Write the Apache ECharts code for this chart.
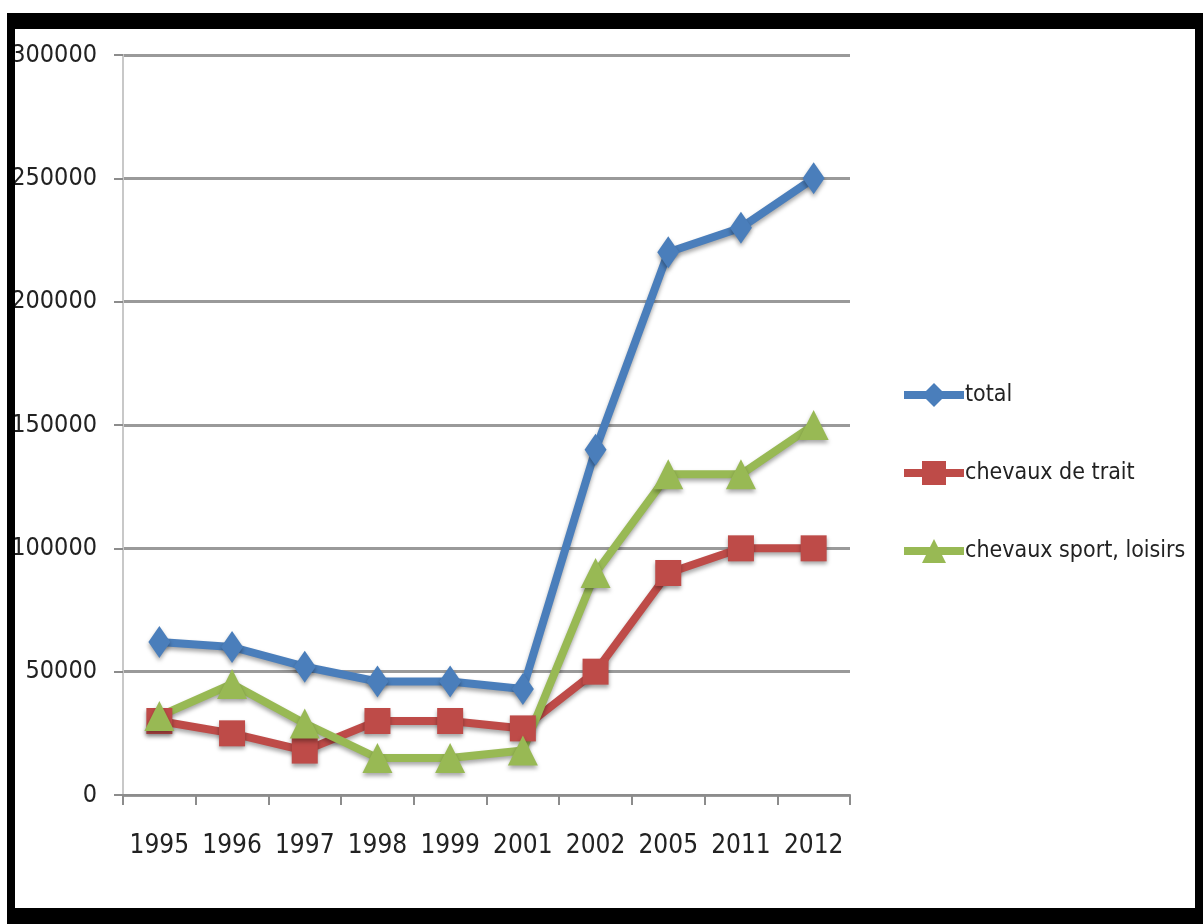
<!DOCTYPE html>
<html>
<head>
<meta charset="utf-8">
<script src="https://cdn.jsdelivr.net/npm/echarts@6/dist/echarts.min.js"></script>
<style>
  html, body { margin: 0; padding: 0; background: #fff; width: 1203px; height: 924px; overflow: hidden; }
  #chart { position: absolute; left: 0; top: 0; width: 1203px; height: 924px; }
  #frame {
    position: absolute; left: 7px; top: 13px; right: 0; bottom: 0;
    border-style: solid; border-color: #000;
    border-width: 16px 8px 16px 8px;
    pointer-events: none;
  }
</style>
</head>
<body>
<div id="chart"></div>
<div id="frame"></div>
<script>
// Horse numbers by year
const years = ['1995', '1996', '1997', '1998', '1999', '2001', '2002', '2005', '2011', '2012'];
const total = [62000, 60000, 52000, 46000, 46000, 43000, 140000, 220000, 230000, 250000];
const chevauxTrait = [30000, 25000, 18000, 30000, 30000, 27000, 50000, 90000, 100000, 100000];
const chevauxSport = [32000, 45000, 29000, 15000, 15000, 18000, 90000, 130000, 130000, 150000];
const seriesNames = ['total', 'chevaux de trait', 'chevaux sport, loisirs'];

const FONT = '"DejaVu Sans Condensed", "Liberation Sans Narrow", "Liberation Sans", sans-serif';

function lineSeries(name, data, color, symbol, size) {
  return {
    name: name,
    type: 'line',
    data: data,
    symbol: symbol,
    symbolSize: size,
    lineStyle: { color: color, width: 8, shadowColor: 'rgba(0,0,0,0.35)', shadowBlur: 4, shadowOffsetY: 3 },
    itemStyle: { color: color, shadowColor: 'rgba(0,0,0,0.35)', shadowBlur: 4, shadowOffsetY: 3 },
    emphasis: { disabled: true },
    animation: false
  };
}

const chart = echarts.init(document.getElementById('chart'), null, { renderer: 'canvas' });
chart.setOption({
  backgroundColor: '#fff',
  animation: false,
  grid: { left: 123, right: 353, top: 55, bottom: 129, containLabel: false },
  legend: {
    orient: 'vertical',
    left: 895,
    top: 378,
    itemWidth: 60,
    itemHeight: 30,
    itemGap: 48,
    lineStyle: { width: 8 },
    itemStyle: { shadowBlur: 0 },
    textStyle: { fontFamily: FONT, fontSize: 23, color: '#222', padding: [0, 0, 0, -4] },
    data: seriesNames
  },
  xAxis: {
    type: 'category',
    data: years,
    boundaryGap: true,
    axisLine: { lineStyle: { color: '#8c8c8c', width: 2 } },
    axisTick: { show: true, interval: 0, length: 10, lineStyle: { color: '#8c8c8c', width: 2 } },
    axisLabel: { interval: 0, margin: 38, fontFamily: FONT, fontSize: 26, color: '#222' },
    splitLine: { show: false }
  },
  yAxis: {
    type: 'value',
    min: 0,
    max: 300000,
    interval: 50000,
    axisLine: { show: true, lineStyle: { color: '#c8c8c8', width: 2 } },
    axisTick: { show: true, length: 9, lineStyle: { color: '#8c8c8c', width: 2 } },
    axisLabel: { margin: 26, fontFamily: FONT, fontSize: 25, color: '#222', formatter: v => String(v) },
    splitLine: { show: true, lineStyle: { color: '#9a9a9a', width: 3 } }
  },
  series: [
    lineSeries(seriesNames[0], total, '#4A7EBB', 'diamond', [22, 32]),
    lineSeries(seriesNames[1], chevauxTrait, '#BE4B48', 'rect', 26),
    lineSeries(seriesNames[2], chevauxSport, '#98B954', 'triangle', 30)
  ]
});
chart.setOption({ legend: { itemGap: 54 } });
</script>
</body>
</html>
